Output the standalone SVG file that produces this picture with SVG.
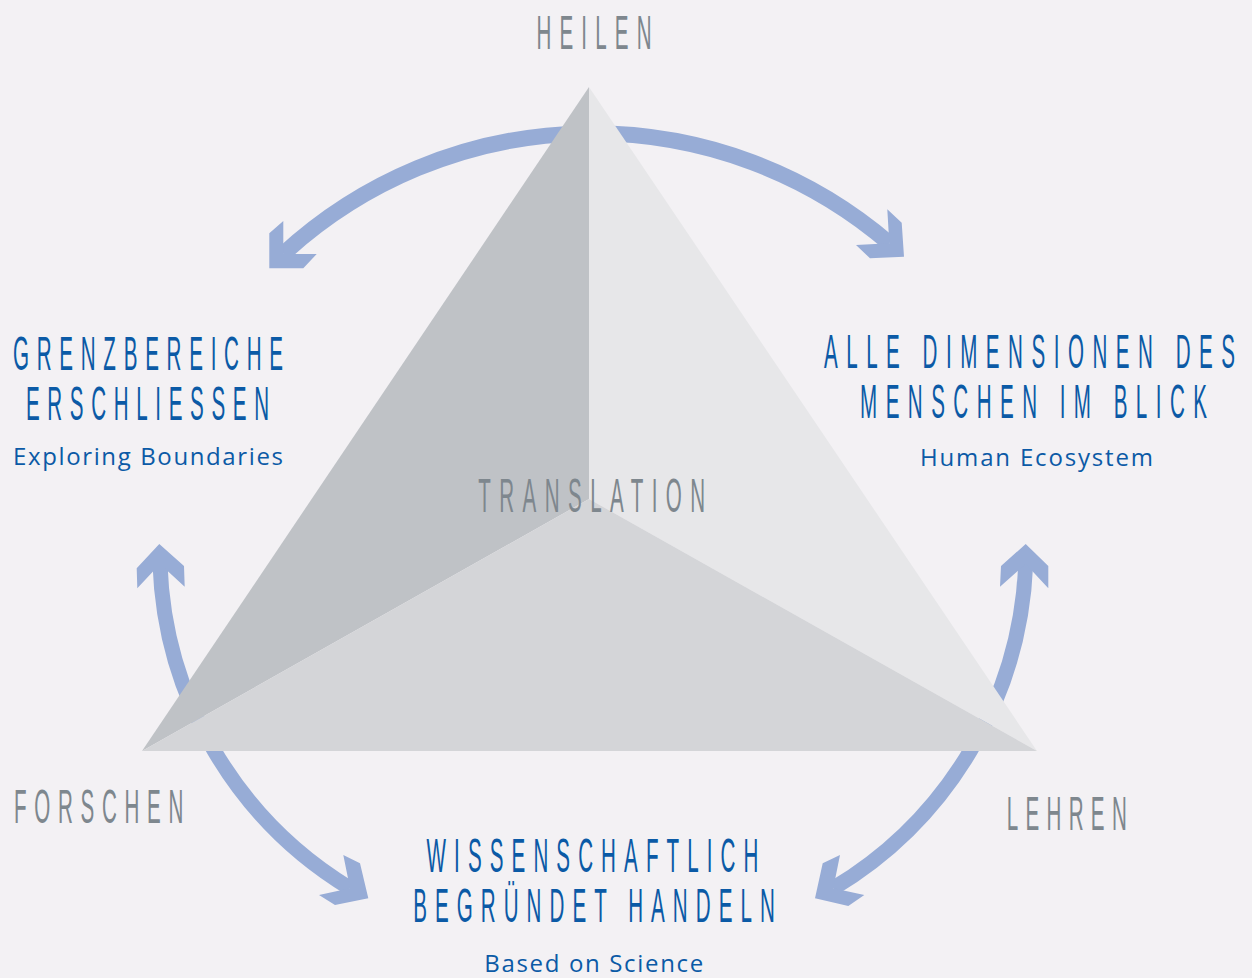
<svg xmlns="http://www.w3.org/2000/svg" width="1252" height="978" viewBox="0 0 1252 978">
<style>
.arc{fill:none;stroke:#97acd6;stroke-width:16}
.head{fill:#97acd6}
.h{font-family:"Liberation Sans",Arial,sans-serif;font-size:49px;text-anchor:middle}
.blue{fill:#0b5aa6}
.gray{fill:#7e878e}
.sub{font-family:"Open Sans","Liberation Sans",sans-serif;font-size:24px;text-anchor:middle;fill:#0b5aa6}
</style>
<rect width="1252" height="978" fill="#f3f1f4"/>
<g id="connectors">
<path class="arc" d="M283.3,254 A456,456 0 0,1 889.3,243.3"/>
<polygon class="head" points="283.3,221 283.3,254 316.7,254 303.3,268.3 269.3,268.3 269.3,233.3"/>
<polygon class="head" points="887.3,209.3 889.3,243.3 856,245 870,258.3 904,256.7 901.7,222.7"/>
<path class="arc" style="stroke-width:15" d="M160,564 A395,395 0 0,0 350,888.3"/>
<polygon class="head" points="159.3,544 184,566 184.7,586.7 160,564 137.3,588.3 136.7,568.3"/>
<polygon class="head" points="343.3,855 350,888.3 319,895 335,905 368.3,898.3 360,863.3"/>
<path class="arc" style="stroke-width:15" d="M1025.7,564 A396,396 0 0,1 833.3,888.3"/>
<polygon class="head" points="1025.7,544 1048.3,566 1048.3,588.3 1025.7,564 1000,586.7 1001,566"/>
<polygon class="head" points="840,855 833.3,888.3 864.3,895 848.3,906 815,898.3 822.7,863.3"/>
</g>
<g id="triangle">
<polygon points="589,87 589,499 142,751" fill="#bfc2c6"/>
<polygon points="589,87 1037,751 589,499" fill="#e7e7e9"/>
<polygon points="142,751 589,499 1037,751" fill="#d4d5d8"/>
</g>
<g id="heilen"><text class="h gray" transform="translate(594,49.3) scale(0.42,1)" textLength="274" lengthAdjust="spacing">HEILEN</text></g>
<g id="translation"><text class="h gray" transform="translate(591.7,511.7) scale(0.42,1)" textLength="540" lengthAdjust="spacing">TRANSLATION</text></g>
<g id="forschen"><text class="h gray" transform="translate(98.7,823.3) scale(0.42,1)" textLength="403" lengthAdjust="spacing">FORSCHEN</text></g>
<g id="lehren"><text class="h gray" transform="translate(1066.7,830) scale(0.42,1)" textLength="286" lengthAdjust="spacing">LEHREN</text></g>
<g id="grenzbereiche">
<text class="h blue" transform="translate(148,370) scale(0.42,1)" textLength="643" lengthAdjust="spacing">GRENZBEREICHE</text>
<text class="h blue" transform="translate(147.5,420) scale(0.42,1)" textLength="579" lengthAdjust="spacing">ERSCHLIESSEN</text>
<text class="sub" x="148" y="465" textLength="270" lengthAdjust="spacing">Exploring Boundaries</text>
</g>
<g id="dimensionen">
<text class="h blue" transform="translate(1029.5,368.3) scale(0.42,1)" textLength="979" lengthAdjust="spacing">ALLE DIMENSIONEN DES</text>
<text class="h blue" transform="translate(1033.5,418.3) scale(0.42,1)" textLength="826" lengthAdjust="spacing">MENSCHEN IM BLICK</text>
<text class="sub" x="1036.5" y="466" textLength="233" lengthAdjust="spacing">Human Ecosystem</text>
</g>
<g id="wissenschaftlich">
<text class="h blue" transform="translate(592.5,872.3) scale(0.42,1)" textLength="790" lengthAdjust="spacing">WISSENSCHAFTLICH</text>
<text class="h blue" transform="translate(594,921.7) scale(0.42,1)" textLength="861" lengthAdjust="spacing">BEGRÜNDET HANDELN</text>
<text class="sub" x="593.7" y="971.7" textLength="219" lengthAdjust="spacing">Based on Science</text>
</g>
</svg>
